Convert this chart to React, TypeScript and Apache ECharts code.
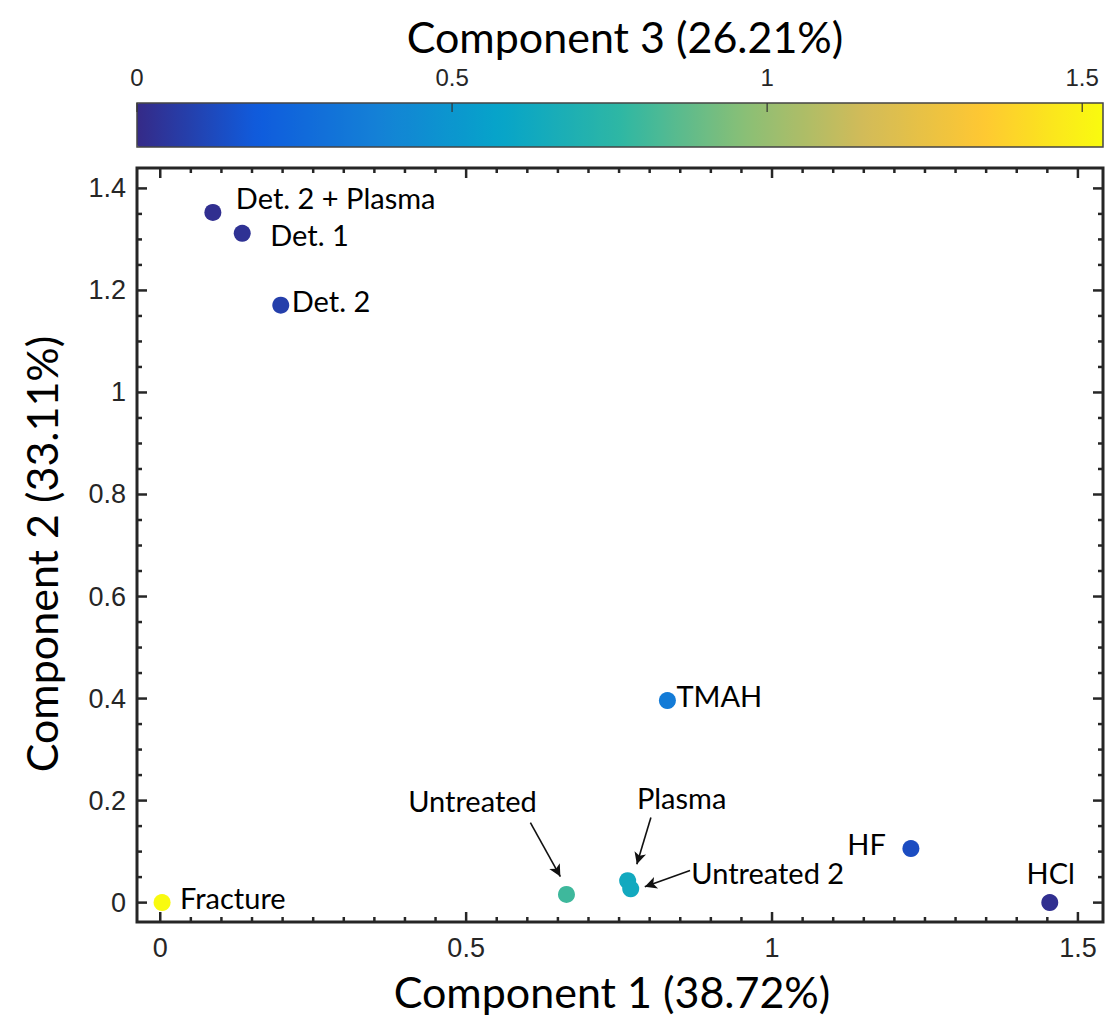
import React, { useEffect, useRef } from "react";
import * as echarts from "echarts";

// ---- data ----
const names = ["Det. 2 + Plasma", "Det. 1", "Det. 2", "TMAH", "HF", "HCl", "Fracture", "Untreated", "Plasma", "Untreated 2"];
const comp1 = [0.086, 0.134, 0.197, 0.829, 1.227, 1.454, 0.003, 0.664, 0.764, 0.769];
const comp2 = [1.353, 1.312, 1.171, 0.396, 0.106, 0.0, 0.0, 0.016, 0.043, 0.027];
const comp3 = [0.02, 0.03, 0.08, 0.35, 0.13, 0.02, 1.53, 0.8, 0.63, 0.63];

const xTickLabels = [0, 0.5, 1, 1.5];
const yTickLabels = [0, 0.2, 0.4, 0.6, 0.8, 1, 1.2, 1.4];
const cbTickLabels = [0, 0.5, 1, 1.5];

// arrows: from (x, y) to (x, y) in data units
const arrowFromX = [0.605, 0.802, 0.866];
const arrowFromY = [0.157, 0.167, 0.063];
const arrowToX = [0.654, 0.779, 0.792];
const arrowToY = [0.051, 0.075, 0.031];

// parula-like colormap
const parula = ["#352a87", "#0f5cdd", "#1481d6", "#06a4ca", "#2eb7a4", "#87bf77", "#d1bb59", "#fec832", "#f9fb0e"];

// ---- layout / style (not data) ----
const labelLayout: Record<string, { align: string; offset: [number, number] }> = {
  "Det. 2 + Plasma": { align: "left", offset: [23, -15] },
  "Det. 1": { align: "left", offset: [28, 1] },
  "Det. 2": { align: "left", offset: [11, -5] },
  TMAH: { align: "left", offset: [9, -5] },
  HF: { align: "right", offset: [-25, -5] },
  HCl: { align: "center", offset: [1, -30] },
  Fracture: { align: "left", offset: [18, -5] },
  Untreated: { align: "center", offset: [-94, -94] },
  Plasma: { align: "center", offset: [54, -83] },
  "Untreated 2": { align: "center", offset: [137, -16] },
};

const X_MIN = -0.038, X_MAX = 1.541;
const Y_MIN = -0.038, Y_MAX = 1.44;
const CB_MAX = 1.533;

function steps(from: number, to: number, step: number) {
  const out: number[] = [];
  const n = Math.round((to - from) / step);
  for (let i = 0; i <= n; i++) out.push(+(from + i * step).toFixed(4));
  return out;
}
const xMinor = steps(0, 1.5, 0.05);
const yMinor = steps(0, 1.4, 0.05);

const MAJOR_LEN = 10;
const MINOR_LEN = 5;

const TICK_FONT = "'Liberation Sans', Arial, sans-serif";
const LABEL_FONT = "Lato, 'Open Sans', sans-serif";
const AX = "#262626";

// one custom series per side of the box: ticks placed through the axes' own scale
function tickSeries(side: "bottom" | "top" | "left" | "right") {
  const horizontal = side === "bottom" || side === "top";
  const values = horizontal ? xMinor : yMinor;
  const majors = horizontal ? xTickLabels : yTickLabels;
  const edge = side === "bottom" ? Y_MIN : side === "top" ? Y_MAX : side === "left" ? X_MIN : X_MAX;
  const data = values.map((v) => (horizontal ? [v, edge] : [edge, v]));
  return {
    type: "custom",
    xAxisIndex: 0,
    yAxisIndex: 0,
    clip: false,
    z: 12,
    data,
    renderItem: (params: any, api: any) => {
      const v = values[params.dataIndex];
      const len = majors.includes(v) ? MAJOR_LEN : MINOR_LEN;
      const p = api.coord([api.value(0), api.value(1)]);
      let x2 = p[0], y2 = p[1];
      if (side === "bottom") y2 = p[1] - len;
      else if (side === "top") y2 = p[1] + len;
      else if (side === "left") x2 = p[0] + len;
      else x2 = p[0] - len;
      return { type: "line", shape: { x1: p[0], y1: p[1], x2, y2 }, style: { stroke: AX, lineWidth: 2.5 } };
    },
  };
}

export default function App() {
  const ref = useRef<HTMLDivElement>(null);
  useEffect(() => {
    if (!ref.current) return;
    const chart = echarts.init(ref.current, null, { renderer: "svg" });
    const points = names.map((n, i) => ({
      name: n,
      value: [comp1[i], comp2[i], comp3[i]],
      label: {
        show: true,
        position: "inside",
        formatter: n,
        align: labelLayout[n].align,
        verticalAlign: "middle",
        offset: labelLayout[n].offset,
        fontSize: 29,
        fontFamily: LABEL_FONT,
        color: "#000",
      },
    }));
    const arrows = arrowFromX.map((_, i) => [
      { coord: [arrowFromX[i], arrowFromY[i]] },
      { coord: [arrowToX[i], arrowToY[i]] },
    ]);
    chart.setOption({
      animation: false,
      backgroundColor: "#fff",
      title: {
        text: "Component 3 (26.21%)",
        left: 620,
        textAlign: "center",
        top: 10,
        textStyle: { fontSize: 43, fontWeight: "normal", fontFamily: LABEL_FONT, color: "#000" },
      },
      grid: [
        { left: 137, top: 168, right: 4, bottom: 112, show: true, borderColor: AX, borderWidth: 3, outerBoundsMode: "none" },
        { left: 137, top: 103, right: 4, height: 44, show: true, borderColor: "#444", borderWidth: 1.5, z: 10, outerBoundsMode: "none" },
      ],
      xAxis: [
        {
          type: "value",
          gridIndex: 0,
          position: "bottom",
          min: X_MIN,
          max: X_MAX,
          axisLine: { show: false, onZero: false },
          splitLine: { show: false },
          axisTick: { show: false },
          axisLabel: { show: true, customValues: xTickLabels, fontSize: 27, fontFamily: TICK_FONT, color: AX, margin: 12 },
          name: "Component 1 (38.72%)",
          nameLocation: "middle",
          nameGap: 48,
          nameTextStyle: { fontSize: 43, fontFamily: LABEL_FONT, color: "#000", padding: [0, 16, 0, 0] },
        },
        {
          type: "value",
          gridIndex: 1,
          position: "top",
          min: 0,
          max: CB_MAX,
          axisLine: { show: false, onZero: false },
          splitLine: { show: false },
          axisTick: { show: false },
          axisLabel: { show: true, customValues: cbTickLabels, fontSize: 24, fontFamily: TICK_FONT, color: AX, margin: 14 },
        },
      ],
      yAxis: [
        {
          type: "value",
          gridIndex: 0,
          position: "left",
          min: Y_MIN,
          max: Y_MAX,
          axisLine: { show: false, onZero: false },
          splitLine: { show: false },
          axisTick: { show: false },
          axisLabel: { show: true, customValues: yTickLabels, fontSize: 27, fontFamily: TICK_FONT, color: AX, margin: 11 },
          name: "Component 2 (33.11%)",
          nameLocation: "middle",
          nameGap: 74,
          nameTextStyle: { fontSize: 43, fontFamily: LABEL_FONT, color: "#000", padding: [0, 18, 0, 0] },
        },
        { type: "value", gridIndex: 1, min: 0, max: 1, show: false },
      ],
      visualMap: {
        type: "continuous",
        orient: "horizontal",
        min: 0,
        max: CB_MAX,
        dimension: 2,
        seriesIndex: 0,
        left: 137,
        top: 103,
        itemWidth: 44,
        itemHeight: 966,
        padding: 0,
        calculable: false,
        hoverLink: false,
        text: null,
        showLabel: false,
        inRange: { color: parula },
        z: 1,
      },
      series: [
        {
          type: "scatter",
          xAxisIndex: 0,
          yAxisIndex: 0,
          symbolSize: 17,
          data: points,
          itemStyle: { opacity: 1 },
          emphasis: { disabled: true },
          markLine: {
            silent: true,
            symbol: ["none", "arrow"],
            symbolSize: [9, 12],
            label: { show: false },
            lineStyle: { color: "#111", width: 1.6, type: "solid" },
            data: arrows,
          },
        },
        tickSeries("bottom"),
        tickSeries("top"),
        tickSeries("left"),
        tickSeries("right"),
        {
          type: "custom",
          xAxisIndex: 1,
          yAxisIndex: 1,
          clip: false,
          z: 12,
          data: cbTickLabels.map((v) => [v, 1]),
          renderItem: (_params: any, api: any) => {
            const p = api.coord([api.value(0), api.value(1)]);
            return { type: "line", shape: { x1: p[0], y1: p[1], x2: p[0], y2: p[1] + 9 }, style: { stroke: "#333", lineWidth: 1.2 } };
          },
        },
      ],
    });
    return () => chart.dispose();
  }, []);
  return <div ref={ref} style={{ position: "fixed", left: 0, top: 0, width: 1107, height: 1034 }} />;
}
